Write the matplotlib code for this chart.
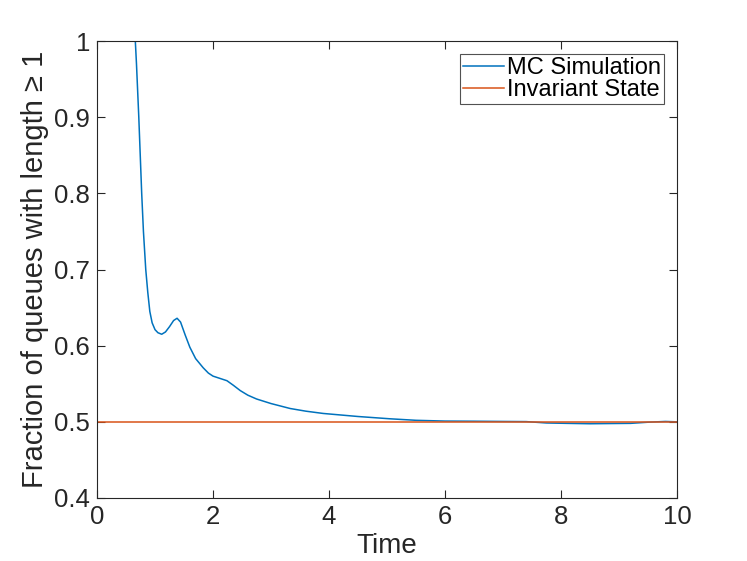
import matplotlib
matplotlib.use('Agg')
import matplotlib.pyplot as plt
from matplotlib.ticker import FormatStrFormatter

# values
time = [0.0, 0.66, 0.68, 0.70, 0.72, 0.745, 0.77, 0.80, 0.84, 0.875, 0.91, 0.95,
        1.0, 1.05, 1.115, 1.18, 1.25, 1.32, 1.38, 1.44, 1.52, 1.6, 1.7, 1.83,
        1.92, 2.0, 2.12, 2.24, 2.35, 2.47, 2.6, 2.75, 3.0, 3.33, 3.6, 3.9, 4.2,
        4.5, 5.05, 5.5, 6.0, 6.5, 7.0, 7.4, 7.75, 8.1, 8.5, 8.9, 9.2, 9.5, 9.8, 10.0]
mc_sim = [1.0, 1.0, 0.97, 0.935, 0.90, 0.85, 0.80, 0.75, 0.70, 0.67, 0.645, 0.630,
          0.621, 0.617, 0.615, 0.618, 0.625, 0.633, 0.636, 0.631, 0.614, 0.598,
          0.583, 0.571, 0.564, 0.560, 0.557, 0.554, 0.548, 0.541, 0.535, 0.530,
          0.524, 0.5175, 0.514, 0.511, 0.509, 0.507, 0.504, 0.502, 0.501, 0.5008,
          0.5005, 0.5003, 0.4985, 0.498, 0.4975, 0.4978, 0.498, 0.4995, 0.5005, 0.500]
invariant_time = [0.0, 10.0]
invariant_val = [0.5, 0.5]

plt.rcParams['font.family'] = ['Liberation Sans', 'DejaVu Sans']

fig = plt.figure(figsize=(7.47, 5.61), dpi=100)
ax = fig.add_axes([0.1299, 0.1123, 0.7764, 0.8146])

ax.plot(time, mc_sim, color='#0072BD', lw=1.1, label='MC Simulation')
ax.plot(invariant_time, invariant_val, color='#D95319', lw=1.1, label='Invariant State')

ax.set_xlim(0, 10)
ax.set_ylim(0.4, 1.0)
ax.set_xticks([0, 2, 4, 6, 8, 10])
ax.set_yticks([0.4, 0.5, 0.6, 0.7, 0.8, 0.9, 1.0])
ax.yaxis.set_major_formatter(FormatStrFormatter('%g'))
ax.tick_params(direction='in', length=6, width=0.8, labelsize=18.5, colors='#262626',
               top=True, right=True, pad=5)
for sp in ax.spines.values():
    sp.set_color('#262626')
    sp.set_linewidth(0.8)

ax.set_xlabel('Time', fontsize=20, color='#262626', labelpad=3)
ax.set_ylabel('Fraction of queues with length ≥ 1', fontsize=21, color='#262626', labelpad=4)

leg = ax.legend(loc='upper right', fontsize=17, frameon=True, fancybox=False,
                edgecolor='#262626', handlelength=1.75, handletextpad=0.12,
                borderpad=0.12, labelspacing=0.02, borderaxespad=0.55)
leg.get_frame().set_linewidth(0.8)

fig.savefig('out.png', dpi=100)
